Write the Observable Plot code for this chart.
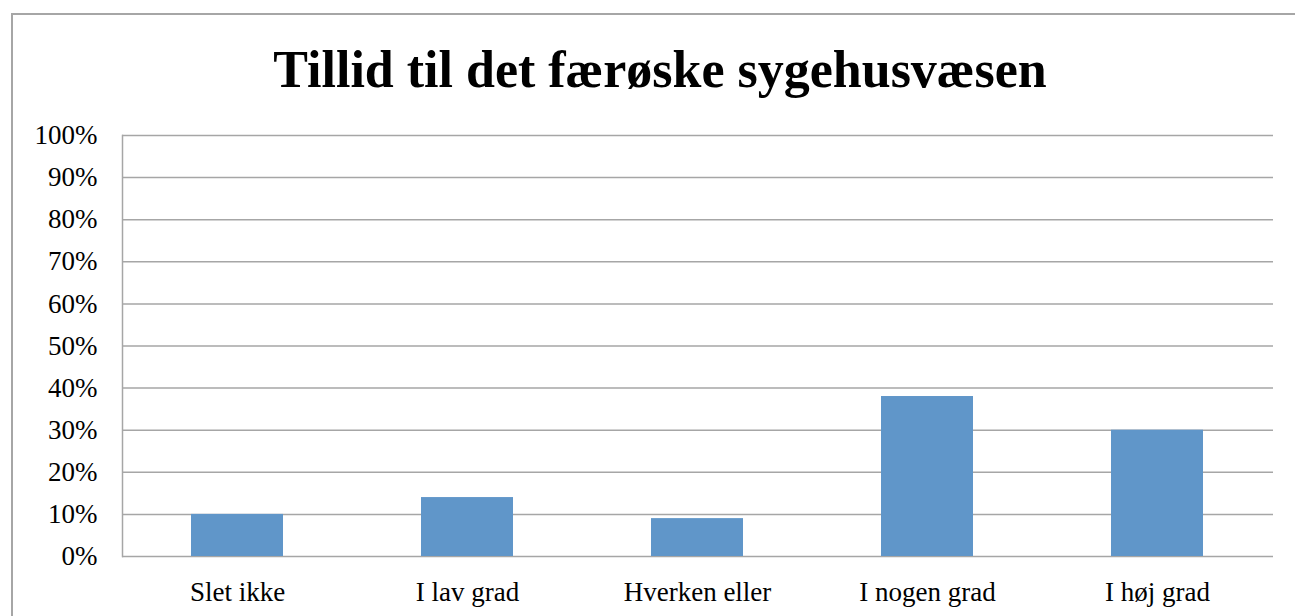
<!DOCTYPE html>
<html>
<head>
<meta charset="utf-8">
<script src="https://cdn.jsdelivr.net/npm/d3@7"></script>
<script src="https://cdn.jsdelivr.net/npm/@observablehq/plot@0.6"></script>
<style>
  html, body { margin: 0; padding: 0; background: #fff; overflow: hidden; }
  body { width: 1295px; height: 616px; position: relative; }
  #frame { position: absolute; left: 11px; top: 13px; width: 1400px; height: 700px;
           border-left: 2px solid #a6a6a6; border-top: 2px solid #a6a6a6; box-sizing: border-box; }
  #title { position: absolute; left: 0; top: 44px; width: 1320px; text-align: center;
           font-family: "Liberation Serif", serif; font-weight: bold; font-size: 52px; line-height: 1; margin: 0; color: #000; }
  #chart { position: absolute; left: 0; top: 110px; }
</style>
</head>
<body>
<div id="frame"></div>
<h1 id="title">Tillid til det færøske sygehusvæsen</h1>
<div id="chart"></div>
<script>
const categories = ["Slet ikke", "I lav grad", "Hverken eller", "I nogen grad", "I høj grad"];
const values = [0.10, 0.14, 0.09, 0.38, 0.30];
const yTicks = [0, 0.1, 0.2, 0.3, 0.4, 0.5, 0.6, 0.7, 0.8, 0.9, 1.0];

const data = categories.map((c, i) => ({category: c, value: values[i]}));

const chart = Plot.plot({
  width: 1295,
  height: 506,
  marginTop: 25,
  marginBottom: 60,
  marginLeft: 122,
  marginRight: 22,
  style: {fontFamily: "Liberation Serif, serif", fontSize: "27px", color: "#000", background: "transparent"},
  x: {domain: categories, paddingInner: 0.6, paddingOuter: 0.3, label: null},
  y: {domain: [0, 1], label: null},
  marks: [
    Plot.ruleY(yTicks, {stroke: "#a6a6a6", strokeWidth: 1.5, strokeOpacity: 1}),
    Plot.frame({anchor: "left", stroke: "#a6a6a6", strokeWidth: 1.5}),
    Plot.barY(data, {x: "category", y: "value", fill: "#6096c9"}),
    Plot.axisY({ticks: yTicks, tickFormat: d3.format(".0%"), tickSize: 0, tickPadding: 25, label: null, fontSize: 27}),
    Plot.axisX({tickSize: 0, tickPadding: 25, label: null, fontSize: 27})
  ]
});
document.getElementById("chart").appendChild(chart);
</script>
</body>
</html>
